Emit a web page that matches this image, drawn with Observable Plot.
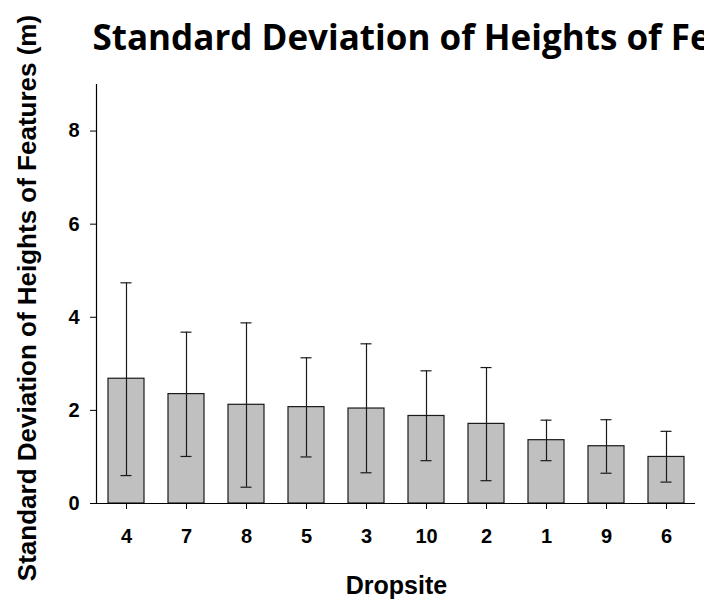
<!DOCTYPE html>
<html>
<head>
<meta charset="utf-8">
<script src="https://cdn.jsdelivr.net/npm/d3@7"></script>
<script src="https://cdn.jsdelivr.net/npm/@observablehq/plot@0.6"></script>
<style>
  html, body { margin: 0; padding: 0; background: #fff; overflow: hidden; width: 704px; height: 603px; }
  #chart { position: relative; width: 704px; height: 603px; overflow: hidden; }
</style>
</head>
<body>
<div id="chart"></div>
<script>
const dropsites = ["4", "7", "8", "5", "3", "10", "2", "1", "9", "6"];
const sdValues = [2.68, 2.35, 2.12, 2.07, 2.04, 1.88, 1.71, 1.36, 1.23, 1.00];
const errLow = [0.60, 1.01, 0.35, 1.00, 0.66, 0.92, 0.49, 0.92, 0.65, 0.46];
const errHigh = [4.74, 3.68, 3.88, 3.13, 3.43, 2.85, 2.92, 1.79, 1.80, 1.55];
const yTicks = [0, 2, 4, 6, 8];
const titleText = "Standard Deviation of Heights of Features";
const yTitle = "Standard Deviation of Heights of Features (m)";
const xTitle = "Dropsite";

const data = dropsites.map((d, i) => ({site: d, value: sdValues[i], lo: errLow[i], hi: errHigh[i]}));

const arial = "'Liberation Sans', Arial, sans-serif";
const ink = "#1a1a1a";

const chart = Plot.plot({
  width: 704,
  height: 603,
  marginLeft: 96,
  marginRight: 8,
  marginTop: 84,
  marginBottom: 100,
  style: {fontFamily: arial, fontWeight: "bold", fontSize: "20px", color: "#000", background: "#fff", overflow: "hidden"},
  x: {type: "band", domain: dropsites, paddingInner: 0.4, paddingOuter: 0.2, label: null},
  y: {domain: [0, 9], label: null},
  marks: [
    Plot.barY(data, {x: "site", y: "value", fill: "#c0c0c0", stroke: ink, strokeWidth: 1.2}),
    Plot.ruleX(data, {x: "site", y1: "lo", y2: "hi", stroke: ink, strokeWidth: 1.2}),
    Plot.tickY(data, {x: "site", y: "lo", stroke: ink, strokeWidth: 1.2, insetLeft: 12.5, insetRight: 12.5}),
    Plot.tickY(data, {x: "site", y: "hi", stroke: ink, strokeWidth: 1.2, insetLeft: 12.5, insetRight: 12.5}),
    Plot.ruleY([0], {stroke: "#000", strokeWidth: 1.2, insetLeft: -5, insetRight: 1}),
    Plot.frame({anchor: "left", stroke: "#000", strokeWidth: 1.2}),
    Plot.axisY({ticks: yTicks, tickSize: 6, tickPadding: 11, tickFormat: d => String(d), fontSize: 20, fontWeight: "bold", label: null}),
    Plot.axisX({tickSize: 6, tickPadding: 19, fontSize: 20, fontWeight: "bold", label: null}),
    Plot.text([titleText], {frameAnchor: "top-left", textAnchor: "start", lineAnchor: "middle", dx: -4, dy: -46,
      fontFamily: "'Open Sans', sans-serif", fontWeight: "bold", fontSize: 35, fill: "#000"}),
    Plot.text([yTitle], {frameAnchor: "left", rotate: -90, textAnchor: "middle", lineAnchor: "middle", dx: -69, dy: 4,
      fontFamily: arial, fontWeight: "bold", fontSize: 26, fill: "#000"}),
    Plot.text([xTitle], {frameAnchor: "bottom", textAnchor: "middle", lineAnchor: "middle", dy: 82,
      fontFamily: arial, fontWeight: "bold", fontSize: 25, fill: "#000"})
  ]
});
document.getElementById("chart").appendChild(chart);
</script>
</body>
</html>
